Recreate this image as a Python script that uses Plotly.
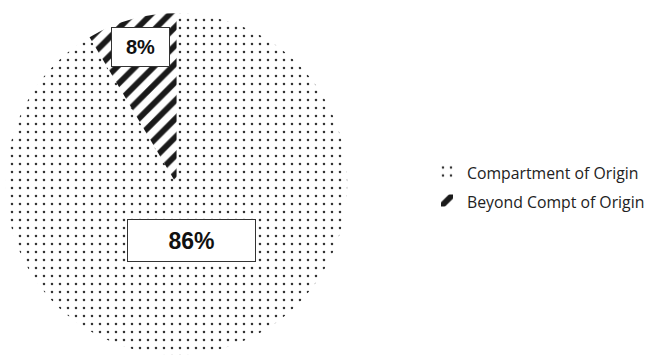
import math
import plotly.graph_objects as go

# Share of fire spread, by extent
categories = ["Compartment of Origin", "Beyond Compt of Origin"]
percent = [86, 8]
patterns = [".", "/"]

W, H = 650, 359
# pie placement in pixels (center and radius)
CX, CY, R = 181, 184, 175

# legend rows are spaced by the legend font; the visible text is kept smaller
legend_labels = [f'<span style="font-size:15.8px">{c}</span>' for c in categories]

fig = go.Figure(
    go.Pie(
        labels=legend_labels,
        values=percent,
        sort=False,
        direction="clockwise",
        rotation=0,
        textinfo="none",
        hovertext=categories,
        hoverinfo="text+value",
        marker=dict(
            colors=["white", "white"],
            line=dict(width=0),
            pattern=dict(
                shape=patterns,
                fgcolor=["#333333", "#1a1a1a"],
                fgopacity=1,
                bgcolor="white",
                size=[8, 13],
                solidity=[0.08, 0.45],
                fillmode="overlay",
            ),
        ),
        domain=dict(x=[(CX - R) / W, (CX + R) / W], y=[(H - CY - R) / H, (H - CY + R) / H]),
    )
)

# boxed percentage labels placed along each slice's mid-angle
total = sum(percent)
label_radius = [0.334, 0.81]
label_font = [23, 20]
label_box = [(127, 41), (57, 38)]
start = 90.0
for v, rf, fs, (bw, bh) in zip(percent, label_radius, label_font, label_box):
    sweep = v / total * 360.0
    mid = math.radians(start - sweep / 2)
    start -= sweep
    px = CX + rf * R * math.cos(mid)
    py = CY - rf * R * math.sin(mid)
    fig.add_annotation(
        x=px / W, y=1 - py / H, xref="paper", yref="paper",
        xanchor="center", yanchor="middle",
        text=f"<b>{v}%</b>", showarrow=False,
        font=dict(family="Liberation Sans, Arial", size=fs, color="#111111"),
        bgcolor="white", bordercolor="#333333", borderwidth=1, borderpad=0,
        width=bw, height=bh, align="center", valign="middle",
    )

fig.update_layout(
    width=W, height=H,
    margin=dict(l=0, r=0, t=0, b=0),
    paper_bgcolor="white",
    showlegend=True,
    legend=dict(
        x=0.674, y=1 - 186 / H, xanchor="left", yanchor="middle",
        font=dict(family="Open Sans, Noto Sans", size=20, color="#222222"),
        itemwidth=30, tracegroupgap=0,
    ),
)

fig.write_html("out.html")
